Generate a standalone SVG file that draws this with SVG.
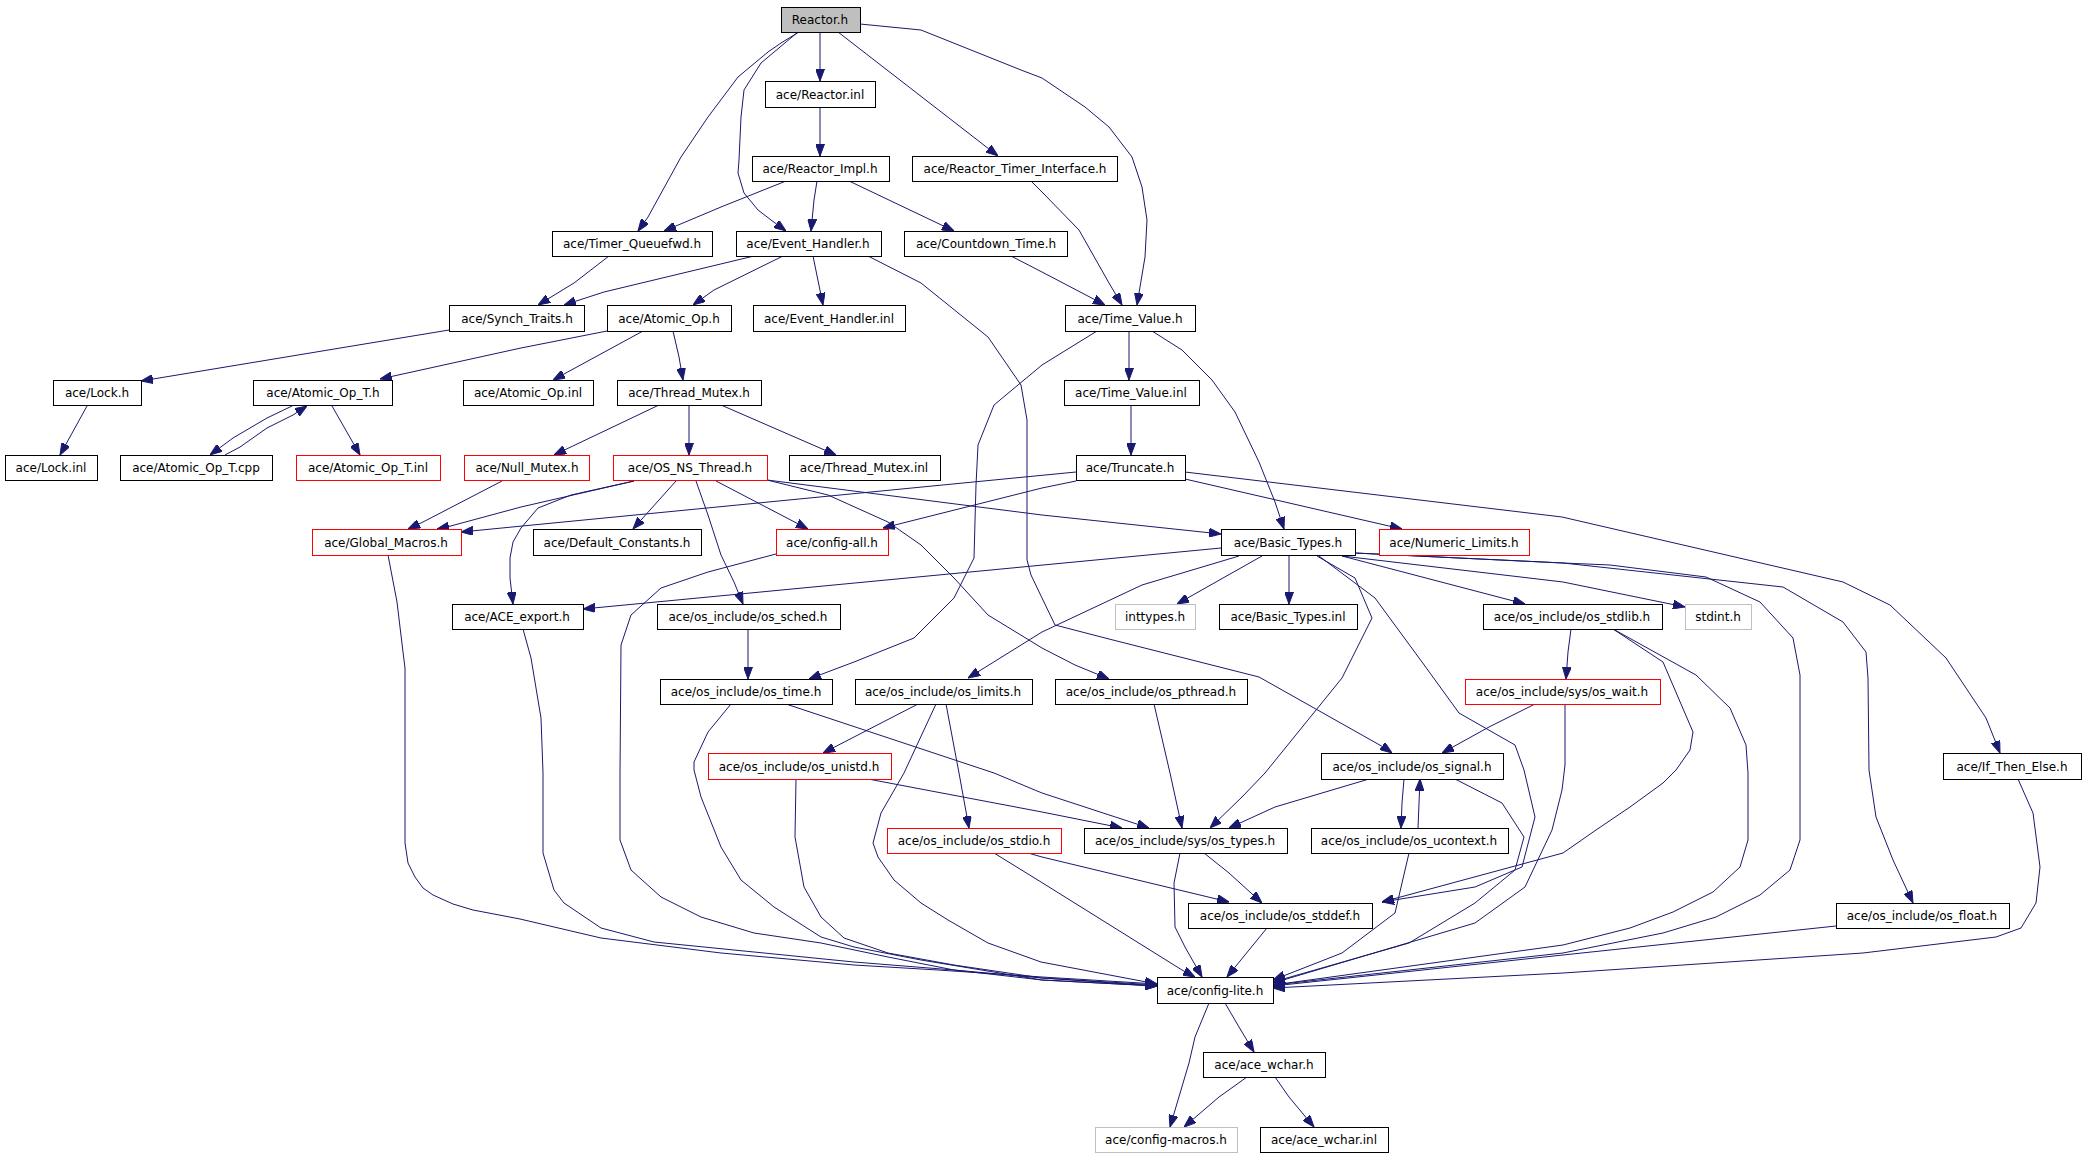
<svg xmlns="http://www.w3.org/2000/svg" width="2084" height="1157" viewBox="0 0 2084 1157">
<style>
.n rect{fill:#fff;stroke:#000;stroke-width:1}
.n.r rect{stroke:#ff0000}
.n.g rect{stroke:#bfbfbf}
.n.root rect{fill:#bfbfbf}
.n text{font-family:"DejaVu Sans",sans-serif;font-size:12px;fill:#000;text-anchor:middle}
#edges path{fill:none;stroke:#191970;stroke-width:1;marker-end:url(#ah)}
</style>
<defs>
<marker id="ah" viewBox="0 0 12 9" refX="12" refY="4.5" markerWidth="12" markerHeight="9" markerUnits="userSpaceOnUse" orient="auto">
<path d="M0,0 L12,4.5 L0,9 z" fill="#191970" stroke="#191970" stroke-width="1"/>
</marker>
</defs>
<rect width="2084" height="1157" fill="#fff"/>
<g id="edges">
<path d="M820,32 L820,81"/>
<path d="M799,32 L781,43 L768,52 L738,77 L708,117 L681,157 L648,217 L638,231"/>
<path d="M798,32 L761,63 L744,90 L741,117 L739,160 L738,173 L744,193 L758,210 L771,220 L786,231"/>
<path d="M838,32 L998,156"/>
<path d="M860,24 L921,30 L1021,70 L1042,78 L1085,107 L1109,127 L1132,157 L1142,187 L1147,220 L1145,257 L1140,287 L1137,305"/>
<path d="M820,107 L820,156"/>
<path d="M786,181 L721,207 L664,231"/>
<path d="M817,181 L814,200 L811,231"/>
<path d="M849,181 L954,231"/>
<path d="M1031,181 L1042,192 L1079,230 L1092,253 L1109,283 L1122,305"/>
<path d="M1011,256 L1042,272 L1105,305"/>
<path d="M609,256 L574,283 L538,305"/>
<path d="M754,256 L654,280 L604,292 L564,305"/>
<path d="M783,256 L714,290 L693,305"/>
<path d="M813,256 L823,305"/>
<path d="M868,256 L921,283 L988,337 L1021,385 L1027,420 L1027,560 L1031,575 L1042,598 L1055,625 L1109,639 L1259,677 L1385,748 L1392,753"/>
<path d="M449,330 L141,381"/>
<path d="M607,331 L521,348 L380,379"/>
<path d="M643,331 L553,380"/>
<path d="M673,331 L679,357 L683,380"/>
<path d="M87,406 L60,455"/>
<path d="M292,406 L267,418 L233,438 L210,455"/>
<path d="M225,455 L240,447 L267,428 L293,415 L307,406"/>
<path d="M332,406 L360,455"/>
<path d="M659,405 L554,455"/>
<path d="M689,405 L689,455"/>
<path d="M721,405 L836,455"/>
<path d="M502,481 L423,522 L408,529"/>
<path d="M634,481 L521,507 L447,527 L437,529"/>
<path d="M634,481 L571,495 L538,508 L521,528 L513,542 L510,558 L510,578 L513,604"/>
<path d="M676,481 L633,529"/>
<path d="M716,481 L808,529"/>
<path d="M696,481 L708,515 L721,555 L734,582 L743,604"/>
<path d="M767,480 L1042,515 L1221,534"/>
<path d="M767,480 L828,495 L888,522 L921,545 L954,578 L988,615 L1042,648 L1075,665 L1109,679"/>
<path d="M1129,331 L1129,380"/>
<path d="M1097,331 L1042,365 L1018,385 L994,405 L978,445 L976,485 L974,558 L954,598 L914,638 L854,662 L809,679"/>
<path d="M1152,331 L1182,350 L1212,380 L1235,412 L1259,462 L1275,502 L1284,529"/>
<path d="M1131,405 L1131,455"/>
<path d="M1076,472 L461,532"/>
<path d="M1076,481 L1042,488 L883,528"/>
<path d="M1185,479 L1402,529"/>
<path d="M1185,472 L1562,517 L1843,582 L1890,605 L1946,658 L1986,718 L2000,753"/>
<path d="M776,554 L708,572 L661,588 L631,615 L621,645 L620,773 L620,840 L631,870 L661,897 L701,917 L754,933 L821,943 L888,957 L954,970 L1042,978 L1157,986"/>
<path d="M388,555 L397,602 L403,652 L405,668 L405,843 L408,863 L415,877 L423,888 L433,895 L453,904 L473,910 L520,919 L601,938 L721,953 L854,965 L938,970 L1042,977 L1157,984"/>
<path d="M1221,548 L583,609"/>
<path d="M1262,556 L1177,604"/>
<path d="M1289,556 L1289,604"/>
<path d="M1239,556 L1142,585 L1042,632 L968,678"/>
<path d="M1342,556 L1525,604"/>
<path d="M1342,556 L1563,582 L1685,607"/>
<path d="M1317,556 L1355,578 L1372,618 L1342,678 L1265,773 L1242,797 L1210,828"/>
<path d="M1319,556 L1375,598 L1422,662 L1459,713 L1515,745 L1524,770 L1535,817 L1522,867 L1475,887 L1382,902"/>
<path d="M1355,553 L1563,563 L1610,565 L1706,577 L1760,602 L1793,638 L1800,675 L1800,773 L1800,840 L1790,870 L1760,895 L1716,917 L1663,933 L1563,953 L1273,985"/>
<path d="M1355,553 L1563,563 L1783,587 L1843,622 L1866,652 L1868,678 L1869,770 L1876,817 L1893,860 L1913,903"/>
<path d="M523,629 L531,658 L541,718 L543,773 L543,853 L554,890 L564,903 L601,928 L654,942 L754,952 L854,962 L954,970 L1042,980 L1157,986"/>
<path d="M748,629 L748,679"/>
<path d="M731,704 L708,732 L694,762 L694,770 L701,797 L721,847 L741,880 L774,907 L821,937 L854,947 L921,960 L1042,980 L1157,986"/>
<path d="M786,704 L994,773 L1042,793 L1149,828"/>
<path d="M918,704 L823,753"/>
<path d="M946,704 L959,773 L969,828"/>
<path d="M936,704 L904,773 L881,813 L873,843 L878,857 L894,880 L921,903 L948,920 L988,943 L1041,962 L1157,984"/>
<path d="M1154,704 L1170,773 L1182,828"/>
<path d="M1571,629 L1568,652 L1566,679"/>
<path d="M1613,629 L1663,662 L1693,732 L1690,750 L1676,770 L1663,783 L1630,807 L1596,830 L1563,853 L1382,902"/>
<path d="M1613,629 L1696,675 L1730,708 L1746,745 L1748,773 L1748,840 L1740,867 L1713,892 L1673,912 L1630,928 L1563,945 L1273,985"/>
<path d="M1535,704 L1489,727 L1442,753"/>
<path d="M1565,704 L1565,765 L1562,790 L1552,830 L1525,887 L1475,923 L1273,983"/>
<path d="M868,779 L1042,812 L1122,828"/>
<path d="M796,779 L795,837 L804,887 L821,917 L844,938 L888,953 L954,965 L1042,978 L1157,985"/>
<path d="M1369,779 L1275,807 L1229,828"/>
<path d="M1404,779 L1402,803 L1401,828"/>
<path d="M1418,828 L1420,779"/>
<path d="M1455,779 L1502,803 L1524,837 L1515,870 L1475,903 L1409,943 L1273,982"/>
<path d="M1028,853 L1042,857 L1229,902"/>
<path d="M994,853 L1041,882 L1182,970 L1195,977"/>
<path d="M1204,853 L1229,873 L1262,903"/>
<path d="M1180,853 L1174,883 L1175,927 L1185,947 L1202,977"/>
<path d="M1409,853 L1395,913 L1342,953 L1273,980"/>
<path d="M1267,928 L1249,950 L1227,977"/>
<path d="M1836,926 L1563,955 L1273,986"/>
<path d="M2018,779 L2033,813 L2040,867 L2036,903 L2021,928 L1996,937 L1863,953 L1563,973 L1273,988"/>
<path d="M1209,1003 L1195,1037 L1189,1063 L1170,1127"/>
<path d="M1225,1003 L1239,1027 L1254,1052"/>
<path d="M1247,1077 L1219,1097 L1184,1127"/>
<path d="M1275,1077 L1289,1097 L1314,1127"/>
</g>
<g id="n_reactor" class="n root"><rect x="781.5" y="7.5" width="79" height="25"/><text x="820" y="24">Reactor.h</text></g>
<g id="n_reactor_inl" class="n"><rect x="765.5" y="81.5" width="110" height="26"/><text x="820" y="99">ace/Reactor.inl</text></g>
<g id="n_reactor_impl" class="n"><rect x="752.5" y="156.5" width="137" height="25"/><text x="820" y="173">ace/Reactor_Impl.h</text></g>
<g id="n_rti" class="n"><rect x="912.5" y="156.5" width="205" height="25"/><text x="1015" y="173">ace/Reactor_Timer_Interface.h</text></g>
<g id="n_tqfwd" class="n"><rect x="552.5" y="231.5" width="160" height="25"/><text x="632" y="248">ace/Timer_Queuefwd.h</text></g>
<g id="n_evh" class="n"><rect x="736.5" y="231.5" width="145" height="25"/><text x="808" y="248">ace/Event_Handler.h</text></g>
<g id="n_cdt" class="n"><rect x="904.5" y="231.5" width="163" height="25"/><text x="986" y="248">ace/Countdown_Time.h</text></g>
<g id="n_synch" class="n"><rect x="449.5" y="305.5" width="135" height="26"/><text x="517" y="323">ace/Synch_Traits.h</text></g>
<g id="n_atomic" class="n"><rect x="607.5" y="305.5" width="124" height="26"/><text x="669" y="323">ace/Atomic_Op.h</text></g>
<g id="n_evh_inl" class="n"><rect x="753.5" y="305.5" width="152" height="26"/><text x="829" y="323">ace/Event_Handler.inl</text></g>
<g id="n_tv" class="n"><rect x="1065.5" y="305.5" width="130" height="26"/><text x="1130" y="323">ace/Time_Value.h</text></g>
<g id="n_lock" class="n"><rect x="53.5" y="380.5" width="88" height="25"/><text x="97" y="397">ace/Lock.h</text></g>
<g id="n_aot" class="n"><rect x="253.5" y="380.5" width="139" height="25"/><text x="323" y="397">ace/Atomic_Op_T.h</text></g>
<g id="n_ao_inl" class="n"><rect x="463.5" y="380.5" width="130" height="25"/><text x="528" y="397">ace/Atomic_Op.inl</text></g>
<g id="n_tm" class="n"><rect x="617.5" y="380.5" width="144" height="25"/><text x="689" y="397">ace/Thread_Mutex.h</text></g>
<g id="n_tv_inl" class="n"><rect x="1064.5" y="380.5" width="135" height="25"/><text x="1131" y="397">ace/Time_Value.inl</text></g>
<g id="n_lock_inl" class="n"><rect x="5.5" y="455.5" width="92" height="25"/><text x="51" y="472">ace/Lock.inl</text></g>
<g id="n_aot_cpp" class="n"><rect x="120.5" y="455.5" width="152" height="25"/><text x="196" y="472">ace/Atomic_Op_T.cpp</text></g>
<g id="n_aot_inl" class="n r"><rect x="296.5" y="455.5" width="144" height="25"/><text x="368" y="472">ace/Atomic_Op_T.inl</text></g>
<g id="n_null" class="n r"><rect x="464.5" y="455.5" width="125" height="25"/><text x="527" y="472">ace/Null_Mutex.h</text></g>
<g id="n_osns" class="n r"><rect x="613.5" y="455.5" width="154" height="25"/><text x="690" y="472">ace/OS_NS_Thread.h</text></g>
<g id="n_tm_inl" class="n"><rect x="789.5" y="455.5" width="151" height="25"/><text x="864" y="472">ace/Thread_Mutex.inl</text></g>
<g id="n_trunc" class="n"><rect x="1076.5" y="455.5" width="109" height="25"/><text x="1130" y="472">ace/Truncate.h</text></g>
<g id="n_gm" class="n r"><rect x="312.5" y="529.5" width="149" height="26"/><text x="386" y="547">ace/Global_Macros.h</text></g>
<g id="n_dc" class="n"><rect x="533.5" y="529.5" width="168" height="26"/><text x="617" y="547">ace/Default_Constants.h</text></g>
<g id="n_cfgall" class="n r"><rect x="776.5" y="529.5" width="112" height="26"/><text x="832" y="547">ace/config-all.h</text></g>
<g id="n_bt" class="n"><rect x="1221.5" y="529.5" width="134" height="26"/><text x="1288" y="547">ace/Basic_Types.h</text></g>
<g id="n_nl" class="n r"><rect x="1379.5" y="529.5" width="150" height="26"/><text x="1454" y="547">ace/Numeric_Limits.h</text></g>
<g id="n_export" class="n"><rect x="452.5" y="604.5" width="131" height="25"/><text x="517" y="621">ace/ACE_export.h</text></g>
<g id="n_sched" class="n"><rect x="657.5" y="604.5" width="183" height="25"/><text x="748" y="621">ace/os_include/os_sched.h</text></g>
<g id="n_inttypes" class="n g"><rect x="1115.5" y="604.5" width="80" height="25"/><text x="1155" y="621">inttypes.h</text></g>
<g id="n_bt_inl" class="n"><rect x="1219.5" y="604.5" width="138" height="25"/><text x="1288" y="621">ace/Basic_Types.inl</text></g>
<g id="n_stdlib" class="n"><rect x="1483.5" y="604.5" width="179" height="25"/><text x="1572" y="621">ace/os_include/os_stdlib.h</text></g>
<g id="n_stdint" class="n g"><rect x="1685.5" y="604.5" width="66" height="25"/><text x="1718" y="621">stdint.h</text></g>
<g id="n_time" class="n"><rect x="660.5" y="679.5" width="172" height="25"/><text x="746" y="696">ace/os_include/os_time.h</text></g>
<g id="n_limits" class="n"><rect x="855.5" y="679.5" width="177" height="25"/><text x="943" y="696">ace/os_include/os_limits.h</text></g>
<g id="n_pthread" class="n"><rect x="1055.5" y="679.5" width="192" height="25"/><text x="1151" y="696">ace/os_include/os_pthread.h</text></g>
<g id="n_wait" class="n r"><rect x="1465.5" y="679.5" width="195" height="25"/><text x="1562" y="696">ace/os_include/sys/os_wait.h</text></g>
<g id="n_unistd" class="n r"><rect x="708.5" y="753.5" width="183" height="26"/><text x="799" y="771">ace/os_include/os_unistd.h</text></g>
<g id="n_signal" class="n"><rect x="1321.5" y="753.5" width="182" height="26"/><text x="1412" y="771">ace/os_include/os_signal.h</text></g>
<g id="n_ite" class="n"><rect x="1943.5" y="753.5" width="138" height="26"/><text x="2012" y="771">ace/If_Then_Else.h</text></g>
<g id="n_stdio" class="n r"><rect x="887.5" y="828.5" width="174" height="25"/><text x="974" y="845">ace/os_include/os_stdio.h</text></g>
<g id="n_types" class="n"><rect x="1084.5" y="828.5" width="203" height="25"/><text x="1185" y="845">ace/os_include/sys/os_types.h</text></g>
<g id="n_ucontext" class="n"><rect x="1311.5" y="828.5" width="197" height="25"/><text x="1409" y="845">ace/os_include/os_ucontext.h</text></g>
<g id="n_stddef" class="n"><rect x="1188.5" y="903.5" width="184" height="25"/><text x="1280" y="920">ace/os_include/os_stddef.h</text></g>
<g id="n_float" class="n"><rect x="1836.5" y="903.5" width="173" height="25"/><text x="1922" y="920">ace/os_include/os_float.h</text></g>
<g id="n_lite" class="n"><rect x="1157.5" y="977.5" width="116" height="26"/><text x="1215" y="995">ace/config-lite.h</text></g>
<g id="n_wchar" class="n"><rect x="1203.5" y="1052.5" width="122" height="25"/><text x="1264" y="1069">ace/ace_wchar.h</text></g>
<g id="n_macros" class="n g"><rect x="1095.5" y="1127.5" width="142" height="25"/><text x="1166" y="1144">ace/config-macros.h</text></g>
<g id="n_wchar_inl" class="n"><rect x="1260.5" y="1127.5" width="128" height="25"/><text x="1324" y="1144">ace/ace_wchar.inl</text></g>
</svg>
